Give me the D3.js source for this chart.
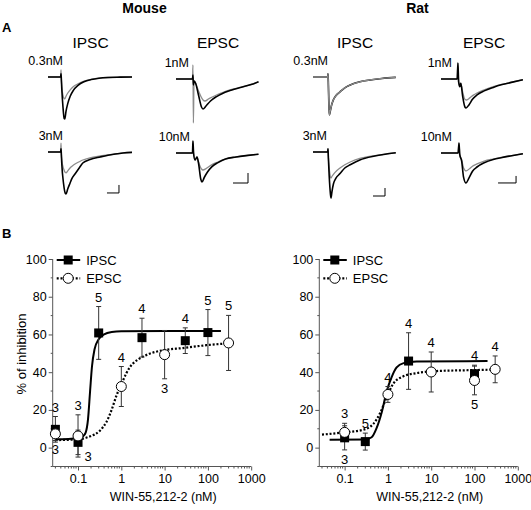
<!DOCTYPE html>
<html><head><meta charset="utf-8">
<script src="https://cdn.jsdelivr.net/npm/d3@7"></script>
<style>
body{margin:0;background:#fff}
svg{display:block}
text{font-family:"Liberation Sans",Arial,Helvetica,sans-serif;fill:#000}
</style></head><body>
<svg id="c" width="531" height="510"></svg>
<script>
// ---------------- Panel B data ----------------
const xTickValues = [0.1, 1, 10, 100, 1000];
const xTickLabels = ["0.1", "1", "10", "100", "1000"];
const yTickValues = [0, 20, 40, 60, 80, 100];
const seriesNames = ["IPSC", "EPSC"];

const mouseIpscConc = [0.03, 0.1, 0.3, 3, 30, 100];
const mouseIpscMean = [9.7, 2.8, 60.8, 58.3, 56.7, 61.0];
const mouseIpscSem  = [6.8, 6.5, 14.0, 10.3, 6.8, 12.2];
const mouseIpscN    = [3, 3, 5, 4, 4, 5];
const mouseIpscNPos = ["above", "right", "above", "above", "above", "above"];

const mouseEpscConc = [0.03, 0.1, 1, 10, 300];
const mouseEpscMean = [7.3, 6.2, 32.4, 49.3, 55.5];
const mouseEpscSem  = [3.5, 11.2, 10.6, 12.8, 14.6];
const mouseEpscN    = [3, 3, 4, 3, 5];
const mouseEpscNPos = ["below", "above", "above", "below", "above"];

const ratIpscConc = [0.1, 0.3, 3, 100];
const ratIpscMean = [5.2, 3.2, 45.9, 39.2];
const ratIpscSem  = [6.4, 4.5, 15.0, 4.5];
const ratIpscN    = [3, 5, 4, 4];
const ratIpscNPos = ["below", "above", "above", "above"];

const ratEpscConc = [0.1, 1, 10, 100, 300];
const ratEpscMean = [8.1, 28.2, 40.1, 35.6, 41.5];
const ratEpscSem  = [4.8, 4.2, 10.6, 7.6, 7.1];
const ratEpscN    = [3, 4, 4, 5, 4];
const ratEpscNPos = ["above", "above", "above", "below", "above"];

// fitted curves, sampled from the figure [conc nM, % inhibition]
const mouseIpscFit = [[0.03,4.4],[0.1,5],[0.13,6],[0.15,8],[0.17,15],[0.19,30],[0.21,43],[0.24,52],[0.3,57.5],[0.4,60],[0.6,61.3],[1,61.7],[10,61.8],[200,61.8]];
const mouseEpscFit = [[0.03,4],[0.1,4.4],[0.19,6],[0.32,9],[0.45,13.5],[0.59,19.7],[0.77,27.5],[1.0,33.5],[1.31,39.5],[1.56,42.5],[2.67,47.3],[4.5,49.8],[9.1,51.6],[26.5,52.8],[92,54.3],[300,55.3]];
const ratIpscFit = [[0.045,4.2],[0.3,4.3],[0.42,5.5],[0.55,10.5],[0.72,18.8],[0.94,30],[1.22,37.4],[1.59,42.5],[2.3,44.8],[4.6,45.6],[200,45.9]];
const ratEpscFit = [[0.03,6.9],[0.09,8],[0.27,9.5],[0.46,12.6],[0.66,18.3],[0.94,26.8],[1.33,33.9],[2.27,37.8],[4.6,39.5],[13.3,40.6],[93,41.1],[300,41.4]];

// ---------------- Panel A traces [ms, pA] ----------------
const mouseIpsc03Ctrl = [[0,0],[21,0],[21.7,40],[22.2,-20],[23,-150],[25,-380],[27,-520],[28,-525],[30,-430],[33,-330],[37,-240],[42,-170],[50,-105],[60,-60],[72,-32],[85,-15],[100,-6],[120,-2],[140,0]];
const mouseIpsc03Drug = [[0,0],[21,0],[21.7,90],[22.2,-20],[23,-120],[25,-230],[27,-270],[28,-272],[30,-240],[33,-200],[37,-160],[42,-122],[50,-85],[60,-52],[72,-30],[85,-15],[100,-6],[120,-2],[140,0]];
const mouseIpsc3Ctrl = [[0,0],[21,0],[21.7,40],[22.2,-20],[23,-150],[26,-400],[29,-520],[30,-525],[33,-460],[36.7,-390],[40,-330],[45,-275],[52,-200],[58,-137],[70,-95],[87,-62],[100,-40],[112,-25],[125,-12],[140,-5]];
const mouseIpsc3Drug = [[0,0],[21,0],[21.7,112],[22.2,-20],[23,-100],[26,-210],[29,-258],[30,-262],[33,-235],[36.7,-200],[40,-178],[45,-150],[52,-122],[58,-100],[70,-72],[87,-50],[100,-36],[112,-25],[125,-12],[140,-5]];

const mouseEpsc1Ctrl = [[0,0],[11,0],[11.3,20],[11.6,-30],[12,-10],[13,-20],[15,-80],[17,-140],[18,-150],[20,-135],[23,-110],[27,-88],[31,-72],[36,-58],[43,-42],[50,-28],[55,-14]];
const mouseEpsc1Drug = [[0,0],[11,0],[11.3,70],[11.6,-220],[12,-10],[13,-20],[15,-60],[18,-105],[19.3,-110],[22,-98],[27,-80],[31,-68],[36,-54],[43,-42],[50,-28],[55,-14]];
const mouseEpsc10Ctrl = [[0,0],[11,0],[11.3,60],[11.7,0],[12.7,-35],[14,-20],[15,-50],[16.5,-130],[17.3,-145],[19,-120],[21,-95],[24,-68],[28,-48],[33,-30],[40,-20],[48,-12],[55,-6]];
const mouseEpsc10Drug = [[0,0],[11,0],[11.3,60],[11.7,0],[12.7,-35],[14,-20],[15,-45],[17,-80],[18,-85],[20,-78],[24,-58],[28,-45],[33,-30],[40,-20],[48,-12],[55,-6]];

const ratIpsc03Ctrl = [[0,0],[24.5,0],[25,40],[25.5,-50],[26.3,-300],[27.2,-475],[29,-420],[31,-350],[34,-285],[38,-235],[45,-185],[53,-135],[62,-100],[78,-60],[95,-37],[115,-18],[138,-5]];
const ratIpsc03Drug = [[0,0],[24.5,0],[25,40],[25.5,-50],[26.3,-300],[27.2,-470],[29,-418],[31,-350],[34,-285],[38,-235],[45,-185],[53,-135],[62,-100],[78,-60],[95,-37],[115,-18],[138,-5]];
const ratIpsc3Ctrl = [[0,0],[24.5,0],[25,40],[25.5,-50],[27,-300],[29,-520],[30,-575],[31.5,-500],[34,-400],[38,-330],[45,-270],[53,-200],[62,-160],[78,-100],[103,-50],[138,-10]];
const ratIpsc3Drug = [[0,0],[24.5,0],[25,40],[25.5,-50],[27,-200],[29,-310],[30,-325],[32,-300],[36,-260],[45,-200],[53,-160],[62,-125],[78,-81],[103,-45],[138,-10]];

const ratEpsc1Ctrl = [[0,0],[9,0],[9.4,114],[9.8,-20],[10.5,-55],[11,-30],[12,-120],[13.3,-200],[13.9,-207],[15.5,-185],[17.5,-145],[20,-114],[24,-85],[29,-60],[34,-40],[38.5,-26],[45.5,-5]];
const ratEpsc1Drug = [[0,0],[9,0],[9.4,114],[9.8,-20],[10.5,-55],[11,-30],[12,-90],[13.3,-145],[14.2,-150],[16,-135],[18,-115],[20,-100],[24,-78],[29,-55],[34,-38],[38.5,-25],[45.5,-5]];
const ratEpsc10Ctrl = [[0,0],[9.5,0],[10,71],[10.4,-10],[11.5,-60],[12.5,-170],[13.9,-214],[15.5,-180],[17.5,-130],[20,-100],[24,-70],[29,-46],[34,-32],[38.5,-21],[45.5,-5]];
const ratEpsc10Drug = [[0,0],[9.5,0],[10,71],[10.4,-10],[11.5,-50],[12.5,-105],[14,-128],[16,-110],[18,-90],[20,-78],[24,-58],[29,-43],[34,-30],[38.5,-20],[45.5,-5]];

const doseLabels = ["0.3nM", "1nM", "3nM", "10nM"];
const columnTitles = ["IPSC", "EPSC", "IPSC", "EPSC"];
const speciesTitles = ["Mouse", "Rat"];
// scale bars [ms, pA]
const ipscScaleBar = [20, 100];
const mouseEpscScaleBar = [10, 50];
const ratEpscScaleBar = [10, 50];

// ---------------- drawing ----------------
const svg = d3.select("#c");
const FONT = '"Liberation Sans",Arial,Helvetica,sans-serif';

svg.append("text").attr("x", 144.5).attr("y", 13).attr("text-anchor", "middle")
  .style("font-weight", "bold").style("font-size", "14px").text(speciesTitles[0]);
svg.append("text").attr("x", 417.5).attr("y", 13).attr("text-anchor", "middle")
  .style("font-weight", "bold").style("font-size", "14px").text(speciesTitles[1]);
svg.append("text").attr("x", 2).attr("y", 32).style("font-weight", "bold").style("font-size", "13px").text("A");
svg.append("text").attr("x", 2).attr("y", 238).style("font-weight", "bold").style("font-size", "13px").text("B");

const colCenters = [90.5, 218, 355, 484];
columnTitles.forEach((t, i) => {
  svg.append("text").attr("x", colCenters[i]).attr("y", 48).attr("text-anchor", "middle")
    .style("font-size", "15.5px").text(t);
});

const cells = [
  {ctrl: mouseIpsc03Ctrl, drug: mouseIpsc03Drug, label: doseLabels[0], x0: 48, x1: 132, base: 77, tMax: 140, k: 0.08, lx: 63},
  {ctrl: mouseIpsc3Ctrl,  drug: mouseIpsc3Drug,  label: doseLabels[2], x0: 48, x1: 132, base: 152, tMax: 140, k: 0.08, lx: 63,
    bar: ipscScaleBar, barAt: [118.3, -512]},
  {ctrl: mouseEpsc1Ctrl,  drug: mouseEpsc1Drug,  label: doseLabels[1], x0: 176, x1: 258.5, base: 79, tMax: 55, k: 0.2, lx: 189},
  {ctrl: mouseEpsc10Ctrl, drug: mouseEpsc10Drug, label: doseLabels[3], x0: 176, x1: 258.5, base: 153, tMax: 55, k: 0.2, lx: 190,
    bar: mouseEpscScaleBar, barAt: [48, -150]},
  {ctrl: ratIpsc03Ctrl, drug: ratIpsc03Drug, label: doseLabels[0], x0: 313, x1: 395.8, base: 77, tMax: 138, k: 0.08, lx: 328, drugOnTop: true},
  {ctrl: ratIpsc3Ctrl,  drug: ratIpsc3Drug,  label: doseLabels[2], x0: 313, x1: 395.8, base: 152, tMax: 138, k: 0.08, lx: 327,
    bar: ipscScaleBar, barAt: [120, -550]},
  {ctrl: ratEpsc1Ctrl,  drug: ratEpsc1Drug,  label: doseLabels[1], x0: 441, x1: 522.9, base: 79, tMax: 45.5, k: 0.14, lx: 452},
  {ctrl: ratEpsc10Ctrl, drug: ratEpsc10Drug, label: doseLabels[3], x0: 441, x1: 522.9, base: 153, tMax: 45.5, k: 0.14, lx: 452,
    bar: ratEpscScaleBar, barAt: [41.7, -214]},
];

cells.forEach(c => {
  const tx = d3.scaleLinear().domain([0, c.tMax]).range([c.x0, c.x1]);
  const ty = d3.scaleLinear().domain([0, -100]).range([c.base, c.base + 100 * c.k]);
  const line = d3.line().x(d => tx(d[0])).y(d => ty(d[1])).curve(d3.curveMonotoneX);
  const drawDrug = () => svg.append("path").attr("d", line(c.drug)).attr("fill", "none").attr("stroke", "#8c8c8c").attr("stroke-width", 1.3);
  const drawCtrl = () => svg.append("path").attr("d", line(c.ctrl)).attr("fill", "none").attr("stroke", "#000").attr("stroke-width", 1.6);
  if (c.drugOnTop) { drawCtrl(); drawDrug(); } else { drawDrug(); drawCtrl(); }
  svg.append("text").attr("x", c.lx).attr("y", c.base - 12).attr("text-anchor", "end")
    .style("font-size", "12.5px").text(c.label);
  if (c.bar) {
    const [bt, bi] = c.barAt;
    const px = tx(bt), py = ty(bi);
    svg.append("path")
      .attr("d", `M${tx(bt - c.bar[0])},${py}H${px}V${ty(bi + c.bar[1])}`)
      .attr("fill", "none").attr("stroke", "#000").attr("stroke-width", 1);
  }
});

// ---------------- dose-response plots ----------------
function plot(xLeft, ipsc, epsc, ipscFit, epscFit) {
  const g = svg.append("g");
  const x = d3.scaleLog().domain([0.026, 1000]).range([xLeft, xLeft + 198.5]);
  const y = d3.scaleLinear().domain([-10, 100]).range([466.5, 259]);
  const axisColor = "#555";

  const ya = g.append("g").attr("transform", `translate(${xLeft},0)`)
    .call(d3.axisLeft(y).tickValues(yTickValues).tickSize(4).tickPadding(2));
  ya.select(".domain").attr("d", `M0,${y(-10)}V${y(100)}`);
  g.append("g").attr("transform", `translate(${xLeft},0)`)
    .selectAll("line").data(d3.range(-10, 100, 20)).join("line")
    .attr("x1", -2).attr("x2", 0).attr("y1", d => y(d)).attr("y2", d => y(d)).attr("stroke", axisColor);

  const xa = g.append("g").attr("transform", `translate(0,${y(-10)})`)
    .call(d3.axisBottom(x).tickValues(xTickValues).tickFormat((d, i) => xTickLabels[i]).tickSize(4).tickPadding(4));
  xa.select(".domain").attr("d", `M${x(0.026)},0H${x(1000)}`);
  const minor = [];
  [0.01, 0.1, 1, 10, 100].forEach(d => { for (let m = 2; m < 10; m++) { const v = d * m; if (v > 0.026) minor.push(v); } });
  g.append("g").attr("transform", `translate(0,${y(-10)})`)
    .selectAll("line").data(minor).join("line")
    .attr("x1", d => x(d)).attr("x2", d => x(d)).attr("y1", 0).attr("y2", 2).attr("stroke", axisColor);

  [ya, xa].forEach(a => {
    a.selectAll(".domain, .tick line").attr("stroke", axisColor);
    a.selectAll("text").style("font-size", "12.5px").style("font-family", FONT).attr("fill", "#000");
  });

  const fl = d3.line().x(d => x(d[0])).y(d => y(d[1])).curve(d3.curveMonotoneX);
  g.append("path").attr("d", fl(ipscFit)).attr("fill", "none").attr("stroke", "#000").attr("stroke-width", 2);
  g.append("path").attr("d", fl(epscFit)).attr("fill", "none").attr("stroke", "#000").attr("stroke-width", 2.2)
    .attr("stroke-dasharray", "2,1.8");

  [epsc, ipsc].forEach(s => {
    s.conc.forEach((c, i) => {
      const cx = x(c), t = y(s.mean[i] + s.sem[i]), b = y(s.mean[i] - s.sem[i]);
      g.append("path").attr("d", `M${cx},${t}V${b}M${cx - 2.5},${t}H${cx + 2.5}M${cx - 2.5},${b}H${cx + 2.5}`)
        .attr("stroke", "#333").attr("stroke-width", 1).attr("fill", "none");
    });
  });
  ipsc.conc.forEach((c, i) => {
    g.append("rect").attr("x", x(c) - 4.5).attr("y", y(ipsc.mean[i]) - 4.5).attr("width", 9).attr("height", 9).attr("fill", "#000");
  });
  epsc.conc.forEach((c, i) => {
    g.append("circle").attr("cx", x(c)).attr("cy", y(epsc.mean[i])).attr("r", 5).attr("fill", "#fff").attr("stroke", "#000").attr("stroke-width", 1);
  });
  [ipsc, epsc].forEach(s => {
    s.conc.forEach((c, i) => {
      let lx = x(c), ly;
      const p = s.pos[i];
      if (p === "above") ly = y(s.mean[i] + s.sem[i]) - 5;
      else if (p === "below") ly = y(s.mean[i] - s.sem[i]) + 14;
      else { lx += 10; ly = y(s.mean[i] - s.sem[i]) + 6; }
      g.append("text").attr("x", lx).attr("y", ly).attr("text-anchor", "middle").style("font-size", "13px").text(s.n[i]);
    });
  });

  const lg = g.append("g");
  lg.append("line").attr("x1", xLeft + 4).attr("x2", xLeft + 27.5).attr("y1", y(100) + 1).attr("y2", y(100) + 1).attr("stroke", "#000").attr("stroke-width", 2);
  lg.append("rect").attr("x", xLeft + 15.5 - 4.5).attr("y", y(100) + 1 - 4.5).attr("width", 9).attr("height", 9).attr("fill", "#000");
  lg.append("text").attr("x", xLeft + 33.5).attr("y", y(100) + 5.5).style("font-size", "13px").text(seriesNames[0]);
  lg.append("line").attr("x1", xLeft + 4).attr("x2", xLeft + 27.5).attr("y1", y(100) + 19.3).attr("y2", y(100) + 19.3).attr("stroke", "#000").attr("stroke-width", 2.2).attr("stroke-dasharray", "2,1.8");
  lg.append("circle").attr("cx", xLeft + 15.5).attr("cy", y(100) + 19.3).attr("r", 5).attr("fill", "#fff").attr("stroke", "#000");
  lg.append("text").attr("x", xLeft + 33.5).attr("y", y(100) + 24).style("font-size", "13px").text(seriesNames[1]);

  g.append("text").attr("x", xLeft + 110.5).attr("y", 501).attr("text-anchor", "middle").style("font-size", "12.5px").text("WIN-55,212-2 (nM)");
  return g;
}

plot(52.7,
  {conc: mouseIpscConc, mean: mouseIpscMean, sem: mouseIpscSem, n: mouseIpscN, pos: mouseIpscNPos},
  {conc: mouseEpscConc, mean: mouseEpscMean, sem: mouseEpscSem, n: mouseEpscN, pos: mouseEpscNPos},
  mouseIpscFit, mouseEpscFit);
svg.append("text").attr("transform", "translate(26,354) rotate(-90)").attr("text-anchor", "middle")
  .style("font-size", "13px").text("% of inhibition");
plot(319.3,
  {conc: ratIpscConc, mean: ratIpscMean, sem: ratIpscSem, n: ratIpscN, pos: ratIpscNPos},
  {conc: ratEpscConc, mean: ratEpscMean, sem: ratEpscSem, n: ratEpscN, pos: ratEpscNPos},
  ratIpscFit, ratEpscFit);
</script></body></html>
